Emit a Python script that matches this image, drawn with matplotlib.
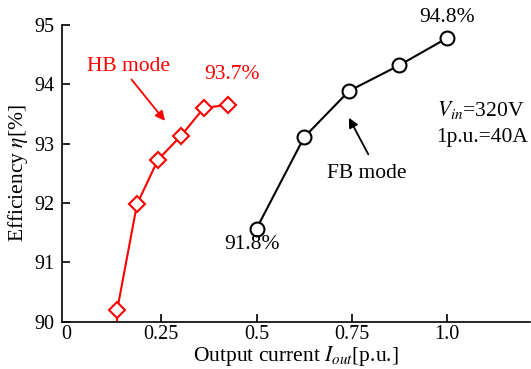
import matplotlib
matplotlib.use("Agg")
import matplotlib.pyplot as plt

plt.rcParams['font.family'] = ['Liberation Serif', 'DejaVu Serif']
plt.rcParams['mathtext.fontset'] = 'stix'
plt.rcParams['font.size'] = 15.5

# HB mode (red diamonds); first point sits below the axis so the line runs to it
hb_x = [0.133, 0.134, 0.186, 0.241, 0.301, 0.361, 0.426]
hb_y = [89.5, 90.2, 91.98, 92.73, 93.13, 93.60, 93.66]

# FB mode (black circles)
fb_x = [0.5, 0.625, 0.743, 0.874, 1.0]
fb_y = [91.57, 93.11, 93.89, 94.32, 94.78]

xticks = [0, 0.25, 0.5, 0.75, 1.0]
xtick_labels = ["0", "0.25", "0.5", "0.75", "1.0"]
yticks = [90, 91, 92, 93, 94, 95]

fig = plt.figure(figsize=(5.31, 3.69), dpi=100)
ax = fig.add_axes([0.116, 0.128, 0.882, 0.804])

ax.plot(hb_x, hb_y, color='red', lw=1.5, marker='D', ms=8, mfc='white',
        mec='red', mew=1.5, markevery=list(range(1, len(hb_x))), clip_on=True)
ax.plot(fb_x, fb_y, color='black', lw=1.5, marker='o', ms=10, mfc='white',
        mec='black', mew=1.5, clip_on=False, zorder=3)

ax.set_xlim(-0.012, 1.218)
ax.set_ylim(90, 95)
ax.set_xticks(xticks)
ax.set_xticklabels(xtick_labels)
ax.set_yticks(yticks)
ax.tick_params(direction='in', length=6, width=1.2, labelsize=14.5)
ax.tick_params(axis='x', pad=2)
ax.tick_params(axis='y', pad=5)
ax.xaxis.get_major_ticks()[0].tick1line.set_visible(False)
for s in ['top', 'right']:
    ax.spines[s].set_visible(False)
for s in ['left', 'bottom']:
    ax.spines[s].set_linewidth(1.2)

ax.set_xlabel(r"Output current $I_{out}$[p.u.]", labelpad=0)
ax.set_ylabel(r"Efficiency $\eta$[%]", labelpad=3)

# annotations
ax.annotate("", xy=(0.264, 93.35), xytext=(0.167, 94.12),
            arrowprops=dict(arrowstyle='-|>', color='red', lw=1.3, mutation_scale=14))
ax.text(0.165, 94.3, "HB mode", color='red', ha='center', va='center')
ax.text(0.435, 94.16, "93.7%", color='red', ha='center', va='center')

ax.annotate("", xy=(0.739, 93.48), xytext=(0.797, 92.78),
            arrowprops=dict(arrowstyle='-|>', color='black', lw=1.3, mutation_scale=14))
ax.text(0.79, 92.5, "FB mode", ha='center', va='center')
ax.text(1.0, 95.12, "94.8%", ha='center', va='center', clip_on=False)
ax.text(0.487, 91.3, "91.8%", ha='center', va='center')

ax.text(0.973, 93.57, r"$V_{in}$=320V", ha='left', va='center')
ax.text(0.973, 93.11, "1p.u.=40A", ha='left', va='center')

fig.savefig("out.png", dpi=100)
